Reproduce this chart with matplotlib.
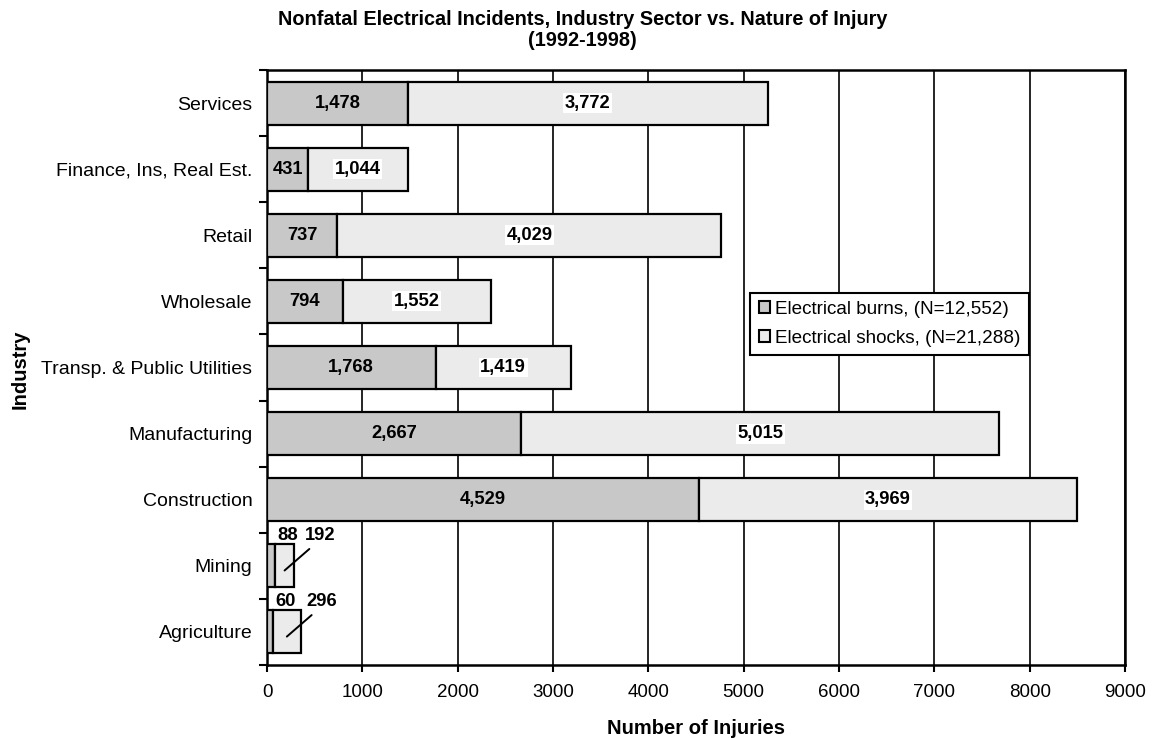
import matplotlib
matplotlib.use("Agg")
import matplotlib.pyplot as plt
from matplotlib.patches import Patch
import numpy as np

plt.rcParams['font.family'] = ['Liberation Sans', 'DejaVu Sans']

industries = ["Services", "Finance, Ins, Real Est.", "Retail", "Wholesale",
              "Transp. & Public Utilities", "Manufacturing", "Construction",
              "Mining", "Agriculture"]
burns = [1478, 431, 737, 794, 1768, 2667, 4529, 88, 60]
shocks = [3772, 1044, 4029, 1552, 1419, 5015, 3969, 192, 296]
burn_labels = ["1,478", "431", "737", "794", "1,768", "2,667", "4,529", "88", "60"]
shock_labels = ["3,772", "1,044", "4,029", "1,552", "1,419", "5,015", "3,969", "192", "296"]
xticks = [0, 1000, 2000, 3000, 4000, 5000, 6000, 7000, 8000, 9000]

fig = plt.figure(figsize=(11.54, 7.38), dpi=100)
ax = fig.add_axes([0.2314, 0.0989, 0.7435, 0.8062])

y = np.arange(len(industries))
h = 0.65
c_burn = "#c8c8c8"
c_shock = "#ebebeb"
ax.barh(y, burns, height=h, color=c_burn, edgecolor="black", linewidth=1.6, zorder=3)
ax.barh(y, shocks, left=burns, height=h, color=c_shock, edgecolor="black", linewidth=1.6, zorder=3)

lab_fs = 13.2
small = {"Mining", "Agriculture"}
for i, name in enumerate(industries):
    if name in small:
        top = y[i] - h / 2
        ax.annotate(burn_labels[i], xy=(burns[i], top), xytext=(9, 0.5),
                    textcoords="offset points", ha="center", va="bottom",
                    fontsize=lab_fs, fontweight="bold", zorder=5)
        cx = burns[i] + shocks[i] / 2
        ax.annotate(shock_labels[i], xy=(cx, y[i] + 0.07), xytext=(cx + 370, top),
                    textcoords="data", ha="center", va="bottom",
                    fontsize=lab_fs, fontweight="bold", zorder=5,
                    arrowprops=dict(arrowstyle="-", color="black", lw=1.4,
                                    shrinkA=2, shrinkB=0, relpos=(0.33, 0.0)))
    else:
        ax.text(burns[i] / 2, y[i], burn_labels[i], ha="center", va="center",
                fontsize=lab_fs, fontweight="bold", zorder=5)
        ax.text(burns[i] + shocks[i] / 2, y[i], shock_labels[i], ha="center", va="center",
                fontsize=lab_fs, fontweight="bold", zorder=5,
                bbox=dict(facecolor="white", edgecolor="none", pad=1.0))

ax.set_xlim(0, 9000)
ax.set_ylim(len(industries) - 0.5, -0.5)
ax.set_xticks(xticks)
ax.set_xticklabels([str(t) for t in xticks], fontsize=13.5)
ax.set_yticks(y)
ax.set_yticklabels(industries, fontsize=14)
ax.set_yticks(np.arange(-0.5, len(industries), 1.0), minor=True)
ax.tick_params(axis="y", which="major", length=0, pad=10.5)
ax.tick_params(axis="y", which="minor", length=6, width=1.5, direction="out")
ax.tick_params(axis="x", which="major", length=5, width=1.5, direction="out", pad=8.5)
ax.grid(axis="x", color="black", linewidth=1.2, zorder=0)
for s in ax.spines.values():
    s.set_linewidth(1.8)

ax.set_xlabel("Number of Injuries", fontsize=14.5, fontweight="bold", labelpad=13)
fig.text(20 / 1154, 0.5, "Industry", rotation=90, ha="center", va="center",
         fontsize=14.5, fontweight="bold")
fig.text(0.505, 0.986, "Nonfatal Electrical Incidents, Industry Sector vs. Nature of Injury\n(1992-1998)",
         ha="center", va="top", fontsize=14.3, fontweight="bold", linespacing=1.12)

handles = [Patch(facecolor=c_burn, edgecolor="black", linewidth=1.5, label="Electrical burns, (N=12,552)"),
           Patch(facecolor=c_shock, edgecolor="black", linewidth=1.5, label="Electrical shocks, (N=21,288)")]
leg = ax.legend(handles=handles, loc="upper left", bbox_to_anchor=(0.563, 0.626),
                fontsize=13.6, frameon=True, fancybox=False, edgecolor="black",
                handlelength=0.6, handleheight=0.6, handletextpad=0.25,
                borderpad=0.45, labelspacing=0.62, borderaxespad=0, framealpha=1)
leg.get_frame().set_linewidth(1.5)
leg.set_zorder(6)

fig.savefig("out.png", dpi=100)
